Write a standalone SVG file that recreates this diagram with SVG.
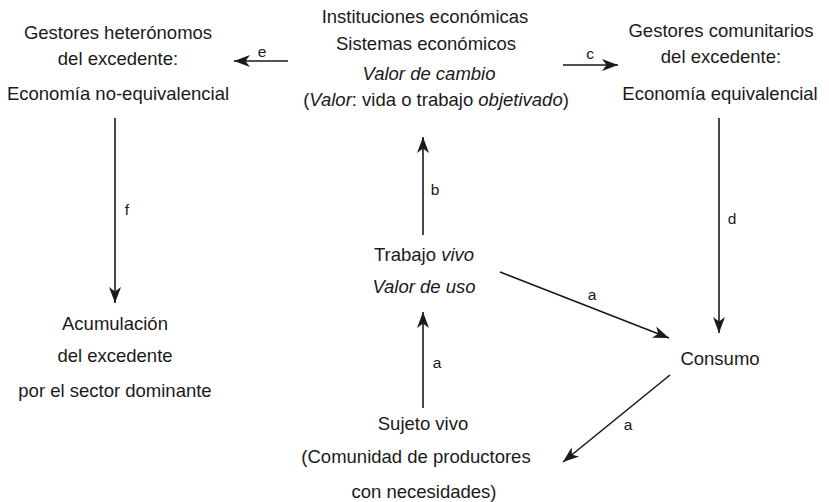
<svg xmlns="http://www.w3.org/2000/svg" width="829" height="502" viewBox="0 0 829 502">
<style>
text{font-family:"Liberation Sans",Arial,sans-serif;font-size:18.5px;fill:#1a1a1a;text-anchor:middle}
.lbl{font-size:15.5px}
.it{font-style:italic}
.con line{stroke:#1a1a1a;stroke-width:1.6;fill:none;marker-end:url(#ah)}
</style>
<defs>
<marker id="ah" markerUnits="userSpaceOnUse" markerWidth="18" markerHeight="14" refX="16" refY="7" orient="auto">
<path d="M0,1 L16,7 L0,13 L4.5,7 Z" fill="#1a1a1a"/>
</marker>
</defs>
<rect width="829" height="502" fill="#fff"/>
<g id="heteronomos">
<text x="118" y="39">Gestores heterónomos</text>
<text x="118" y="65">del excedente:</text>
<text x="118" y="100">Economía no-equivalencial</text>
</g>
<g id="instituciones">
<text x="425" y="23">Instituciones económicas</text>
<text x="426" y="50">Sistemas económicos</text>
<text x="429" y="80" class="it">Valor de cambio</text>
<text x="436" y="106">(<tspan class="it">Valor</tspan>: vida o trabajo <tspan class="it">objetivado</tspan>)</text>
</g>
<g id="comunitarios">
<text x="721" y="37">Gestores comunitarios</text>
<text x="721" y="63">del excedente:</text>
<text x="720" y="100">Economía equivalencial</text>
</g>
<g id="acumulacion">
<text x="115" y="330">Acumulación</text>
<text x="115" y="362">del excedente</text>
<text x="115" y="397">por el sector dominante</text>
</g>
<g id="trabajo">
<text x="424" y="261">Trabajo <tspan class="it">vivo</tspan></text>
<text x="424" y="293" class="it">Valor de uso</text>
</g>
<g id="consumo">
<text x="720" y="365">Consumo</text>
</g>
<g id="sujeto">
<text x="423" y="430">Sujeto vivo</text>
<text x="416" y="463">(Comunidad de productores</text>
<text x="424" y="498">con necesidades)</text>
</g>
<g id="connectors" class="con">
<line x1="288" y1="61" x2="234" y2="61"/>
<line x1="563" y1="65" x2="618" y2="65"/>
<line x1="115" y1="118" x2="115" y2="303"/>
<line x1="719" y1="118" x2="719" y2="333"/>
<line x1="423" y1="235" x2="423" y2="137"/>
<line x1="500" y1="272" x2="669" y2="338"/>
<line x1="423" y1="408" x2="423" y2="312"/>
<line x1="670" y1="375" x2="563" y2="462"/>
</g>
<g id="labels">
<text class="lbl" x="262" y="57">e</text>
<text class="lbl" x="590" y="59">c</text>
<text class="lbl" x="127" y="215">f</text>
<text class="lbl" x="435" y="195">b</text>
<text class="lbl" x="732" y="224">d</text>
<text class="lbl" x="592" y="300">a</text>
<text class="lbl" x="437" y="368">a</text>
<text class="lbl" x="628" y="430">a</text>
</g>
</svg>
